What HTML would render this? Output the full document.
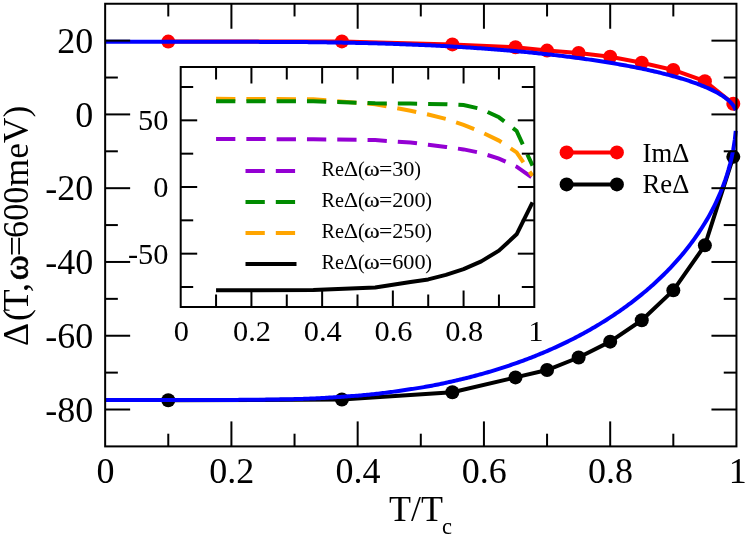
<!DOCTYPE html>
<html><head><meta charset="utf-8"><title>chart</title>
<style>html,body{margin:0;padding:0;background:#fff;}svg{display:block;will-change:transform;}text{font-family:"Liberation Serif",serif;fill:#000;}</style>
</head><body>
<svg width="747" height="539" viewBox="0 0 747 539">
<rect x="0" y="0" width="747" height="539" fill="#fff"/>
<g fill="none" stroke-linejoin="round" stroke-linecap="butt">
<polyline points="168.28,41.6 341.89,41.38 452.37,44.4 515.5,47.28 547.06,50.6 578.62,53.07 610.19,56.68 641.75,62.77 673.32,69.93 704.88,81.14 733.29,103.72" stroke="#f00" stroke-width="4"/>
</g>
<g fill="#f00">
<circle cx="168.28" cy="41.6" r="7"/>
<circle cx="341.89" cy="41.38" r="7"/>
<circle cx="452.37" cy="44.4" r="7"/>
<circle cx="515.5" cy="47.28" r="7"/>
<circle cx="547.06" cy="50.6" r="7"/>
<circle cx="578.62" cy="53.07" r="7"/>
<circle cx="610.19" cy="56.68" r="7"/>
<circle cx="641.75" cy="62.77" r="7"/>
<circle cx="673.32" cy="69.93" r="7"/>
<circle cx="704.88" cy="81.14" r="7"/>
<circle cx="733.29" cy="103.72" r="7"/>
</g>
<polyline points="168.28,400.29 341.89,399.55 452.37,392.18 515.5,377.42 547.06,370.04 578.62,357.5 610.19,341.64 641.75,320.24 673.32,290.37 704.88,245.36 733.29,156.83" fill="none" stroke="#000" stroke-width="4" stroke-linejoin="round"/>
<g fill="#000">
<circle cx="168.28" cy="400.29" r="7"/>
<circle cx="341.89" cy="399.55" r="7"/>
<circle cx="452.37" cy="392.18" r="7"/>
<circle cx="515.5" cy="377.42" r="7"/>
<circle cx="547.06" cy="370.04" r="7"/>
<circle cx="578.62" cy="357.5" r="7"/>
<circle cx="610.19" cy="341.64" r="7"/>
<circle cx="641.75" cy="320.24" r="7"/>
<circle cx="673.32" cy="290.37" r="7"/>
<circle cx="704.88" cy="245.36" r="7"/>
<circle cx="733.29" cy="156.83" r="7"/>
</g>
<polyline points="105.15,41.82 106.73,41.82 108.31,41.82 109.88,41.82 111.46,41.82 113.04,41.82 114.62,41.82 116.2,41.82 117.78,41.82 119.35,41.82 120.93,41.82 122.51,41.82 124.09,41.82 125.67,41.82 127.25,41.82 128.82,41.82 130.4,41.82 131.98,41.82 133.56,41.82 135.14,41.82 136.72,41.82 138.29,41.82 139.87,41.82 141.45,41.82 143.03,41.82 144.61,41.82 146.18,41.82 147.76,41.82 149.34,41.82 150.92,41.82 152.5,41.82 154.08,41.82 155.65,41.82 157.23,41.82 158.81,41.82 160.39,41.82 161.97,41.82 163.55,41.82 165.12,41.82 166.7,41.82 168.28,41.82 169.86,41.82 171.44,41.82 173.01,41.82 174.59,41.82 176.17,41.82 177.75,41.82 179.33,41.82 180.91,41.82 182.48,41.82 184.06,41.82 185.64,41.82 187.22,41.82 188.8,41.82 190.38,41.82 191.95,41.82 193.53,41.82 195.11,41.82 196.69,41.82 198.27,41.82 199.85,41.82 201.42,41.82 203,41.82 204.58,41.82 206.16,41.82 207.74,41.82 209.31,41.82 210.89,41.82 212.47,41.82 214.05,41.82 215.63,41.82 217.21,41.82 218.78,41.82 220.36,41.82 221.94,41.82 223.52,41.82 225.1,41.82 226.68,41.82 228.25,41.82 229.83,41.82 231.41,41.83 232.99,41.83 234.57,41.83 236.14,41.83 237.72,41.83 239.3,41.83 240.88,41.83 242.46,41.83 244.04,41.84 245.61,41.84 247.19,41.84 248.77,41.85 250.35,41.85 251.93,41.85 253.51,41.86 255.08,41.86 256.66,41.87 258.24,41.87 259.82,41.88 261.4,41.88 262.98,41.89 264.55,41.89 266.13,41.9 267.71,41.9 269.29,41.91 270.87,41.92 272.44,41.92 274.02,41.93 275.6,41.94 277.18,41.94 278.76,41.95 280.34,41.96 281.91,41.97 283.49,41.97 285.07,41.98 286.65,41.99 288.23,42 289.81,42 291.38,42.01 292.96,42.02 294.54,42.03 296.12,42.04 297.7,42.05 299.27,42.06 300.85,42.07 302.43,42.08 304.01,42.09 305.59,42.11 307.17,42.12 308.74,42.14 310.32,42.15 311.9,42.17 313.48,42.19 315.06,42.21 316.64,42.23 318.21,42.25 319.79,42.27 321.37,42.29 322.95,42.31 324.53,42.33 326.11,42.36 327.68,42.38 329.26,42.4 330.84,42.43 332.42,42.45 334,42.48 335.57,42.5 337.15,42.53 338.73,42.56 340.31,42.58 341.89,42.61 343.47,42.64 345.04,42.67 346.62,42.7 348.2,42.73 349.78,42.76 351.36,42.79 352.94,42.82 354.51,42.85 356.09,42.88 357.67,42.91 359.25,42.94 360.83,42.97 362.4,43.01 363.98,43.04 365.56,43.08 367.14,43.11 368.72,43.15 370.3,43.19 371.87,43.24 373.45,43.28 375.03,43.32 376.61,43.37 378.19,43.41 379.77,43.46 381.34,43.51 382.92,43.56 384.5,43.61 386.08,43.66 387.66,43.71 389.24,43.76 390.81,43.81 392.39,43.87 393.97,43.92 395.55,43.98 397.13,44.03 398.7,44.09 400.28,44.15 401.86,44.21 403.44,44.27 405.02,44.33 406.6,44.39 408.17,44.45 409.75,44.51 411.33,44.57 412.91,44.63 414.49,44.69 416.07,44.76 417.64,44.82 419.22,44.88 420.8,44.95 422.38,45.01 423.96,45.08 425.53,45.15 427.11,45.22 428.69,45.29 430.27,45.37 431.85,45.44 433.43,45.52 435,45.6 436.58,45.68 438.16,45.76 439.74,45.84 441.32,45.93 442.9,46.01 444.47,46.1 446.05,46.18 447.63,46.27 449.21,46.36 450.79,46.45 452.37,46.54 453.94,46.63 455.52,46.72 457.1,46.81 458.68,46.9 460.26,47 461.83,47.1 463.41,47.19 464.99,47.29 466.57,47.39 468.15,47.49 469.73,47.6 471.3,47.7 472.88,47.8 474.46,47.91 476.04,48.02 477.62,48.13 479.2,48.24 480.77,48.35 482.35,48.46 483.93,48.57 485.51,48.68 487.09,48.8 488.66,48.91 490.24,49.03 491.82,49.15 493.4,49.27 494.98,49.4 496.56,49.52 498.13,49.64 499.71,49.77 501.29,49.9 502.87,50.03 504.45,50.16 506.03,50.29 507.6,50.42 509.18,50.56 510.76,50.69 512.34,50.83 513.92,50.97 515.5,51.11 517.07,51.25 518.65,51.39 520.23,51.54 521.81,51.69 523.39,51.83 524.96,51.98 526.54,52.13 528.12,52.29 529.7,52.44 531.28,52.6 532.86,52.76 534.43,52.92 536.01,53.08 537.59,53.24 539.17,53.4 540.75,53.57 542.33,53.74 543.9,53.9 545.48,54.07 547.06,54.25 548.64,54.42 550.22,54.59 551.79,54.77 553.37,54.95 554.95,55.13 556.53,55.31 558.11,55.5 559.69,55.69 561.26,55.87 562.84,56.07 564.42,56.26 566,56.45 567.58,56.65 569.16,56.85 570.73,57.05 572.31,57.25 573.89,57.45 575.47,57.66 577.05,57.87 578.62,58.08 580.2,58.29 581.78,58.51 583.36,58.72 584.94,58.94 586.52,59.17 588.09,59.39 589.67,59.62 591.25,59.85 592.83,60.08 594.41,60.31 595.99,60.55 597.56,60.79 599.14,61.03 600.72,61.28 602.3,61.53 603.88,61.77 605.46,62.03 607.03,62.28 608.61,62.54 610.19,62.8 611.77,63.06 613.35,63.33 614.92,63.59 616.5,63.86 618.08,64.14 619.66,64.42 621.24,64.7 622.82,64.98 624.39,65.27 625.97,65.56 627.55,65.85 629.13,66.15 630.71,66.45 632.29,66.76 633.86,67.06 635.44,67.37 637.02,67.69 638.6,68.01 640.18,68.33 641.75,68.66 643.33,68.99 644.91,69.32 646.49,69.66 648.07,70 649.65,70.35 651.22,70.71 652.8,71.06 654.38,71.43 655.96,71.79 657.54,72.17 659.12,72.55 660.69,72.93 662.27,73.32 663.85,73.71 665.43,74.11 667.01,74.52 668.59,74.93 670.16,75.35 671.74,75.77 673.32,76.21 674.9,76.64 676.48,77.09 678.05,77.54 679.63,78.01 681.21,78.48 682.79,78.96 684.37,79.45 685.95,79.94 687.52,80.45 689.1,80.97 690.68,81.5 692.26,82.04 693.84,82.59 695.42,83.15 696.99,83.72 698.57,84.31 700.15,84.91 701.73,85.53 703.31,86.16 704.88,86.8 706.46,87.47 708.04,88.16 709.62,88.87 711.2,89.61 712.78,90.37 714.35,91.17 715.93,91.99 717.51,92.85 719.09,93.75 720.67,94.69 722.25,95.68 723.82,96.73 725.4,97.85 726.98,99.06 728.56,100.39 730.14,101.85 731.72,103.52 733.29,105.51 734.87,108.11 735.76,110.23" fill="none" stroke="#00f" stroke-width="4" stroke-linejoin="round"/>
<polyline points="105.15,399.92 106.73,399.92 108.31,399.92 109.88,399.92 111.46,399.92 113.04,399.92 114.62,399.92 116.2,399.92 117.78,399.92 119.35,399.92 120.93,399.92 122.51,399.92 124.09,399.92 125.67,399.92 127.25,399.92 128.82,399.92 130.4,399.92 131.98,399.92 133.56,399.92 135.14,399.92 136.72,399.92 138.29,399.92 139.87,399.92 141.45,399.92 143.03,399.92 144.61,399.92 146.18,399.92 147.76,399.92 149.34,399.92 150.92,399.92 152.5,399.92 154.08,399.92 155.65,399.92 157.23,399.92 158.81,399.92 160.39,399.92 161.97,399.92 163.55,399.92 165.12,399.92 166.7,399.92 168.28,399.92 169.86,399.92 171.44,399.92 173.01,399.92 174.59,399.92 176.17,399.92 177.75,399.92 179.33,399.92 180.91,399.92 182.48,399.92 184.06,399.92 185.64,399.92 187.22,399.92 188.8,399.92 190.38,399.92 191.95,399.92 193.53,399.92 195.11,399.92 196.69,399.92 198.27,399.92 199.85,399.91 201.42,399.91 203,399.91 204.58,399.91 206.16,399.91 207.74,399.91 209.31,399.91 210.89,399.91 212.47,399.91 214.05,399.91 215.63,399.91 217.21,399.9 218.78,399.9 220.36,399.9 221.94,399.9 223.52,399.9 225.1,399.9 226.68,399.9 228.25,399.9 229.83,399.89 231.41,399.89 232.99,399.89 234.57,399.89 236.14,399.88 237.72,399.88 239.3,399.87 240.88,399.86 242.46,399.85 244.04,399.84 245.61,399.83 247.19,399.82 248.77,399.81 250.35,399.79 251.93,399.78 253.51,399.76 255.08,399.75 256.66,399.73 258.24,399.71 259.82,399.69 261.4,399.67 262.98,399.65 264.55,399.63 266.13,399.6 267.71,399.58 269.29,399.56 270.87,399.53 272.44,399.51 274.02,399.48 275.6,399.45 277.18,399.43 278.76,399.4 280.34,399.37 281.91,399.34 283.49,399.31 285.07,399.28 286.65,399.25 288.23,399.22 289.81,399.19 291.38,399.16 292.96,399.13 294.54,399.09 296.12,399.06 297.7,399.02 299.27,398.98 300.85,398.94 302.43,398.89 304.01,398.84 305.59,398.78 307.17,398.72 308.74,398.66 310.32,398.6 311.9,398.53 313.48,398.46 315.06,398.39 316.64,398.31 318.21,398.24 319.79,398.15 321.37,398.07 322.95,397.99 324.53,397.9 326.11,397.81 327.68,397.72 329.26,397.62 330.84,397.52 332.42,397.43 334,397.33 335.57,397.22 337.15,397.12 338.73,397.01 340.31,396.91 341.89,396.8 343.47,396.69 345.04,396.58 346.62,396.46 348.2,396.35 349.78,396.23 351.36,396.12 352.94,396 354.51,395.88 356.09,395.76 357.67,395.64 359.25,395.52 360.83,395.39 362.4,395.25 363.98,395.11 365.56,394.97 367.14,394.82 368.72,394.67 370.3,394.51 371.87,394.35 373.45,394.18 375.03,394.01 376.61,393.83 378.19,393.65 379.77,393.47 381.34,393.28 382.92,393.09 384.5,392.89 386.08,392.69 387.66,392.49 389.24,392.28 390.81,392.07 392.39,391.86 393.97,391.64 395.55,391.42 397.13,391.2 398.7,390.98 400.28,390.75 401.86,390.52 403.44,390.29 405.02,390.06 406.6,389.82 408.17,389.58 409.75,389.34 411.33,389.1 412.91,388.86 414.49,388.61 416.07,388.36 417.64,388.12 419.22,387.87 420.8,387.62 422.38,387.36 423.96,387.1 425.53,386.83 427.11,386.55 428.69,386.26 430.27,385.97 431.85,385.67 433.43,385.37 435,385.06 436.58,384.74 438.16,384.42 439.74,384.09 441.32,383.76 442.9,383.43 444.47,383.09 446.05,382.75 447.63,382.41 449.21,382.06 450.79,381.71 452.37,381.36 453.94,381.01 455.52,380.65 457.1,380.29 458.68,379.92 460.26,379.54 461.83,379.17 463.41,378.78 464.99,378.39 466.57,378 468.15,377.6 469.73,377.2 471.3,376.79 472.88,376.38 474.46,375.96 476.04,375.54 477.62,375.11 479.2,374.68 480.77,374.25 482.35,373.81 483.93,373.37 485.51,372.92 487.09,372.47 488.66,372.01 490.24,371.55 491.82,371.08 493.4,370.6 494.98,370.12 496.56,369.63 498.13,369.14 499.71,368.64 501.29,368.14 502.87,367.63 504.45,367.12 506.03,366.6 507.6,366.07 509.18,365.54 510.76,365.01 512.34,364.47 513.92,363.93 515.5,363.38 517.07,362.82 518.65,362.26 520.23,361.69 521.81,361.12 523.39,360.53 524.96,359.94 526.54,359.35 528.12,358.75 529.7,358.14 531.28,357.52 532.86,356.9 534.43,356.28 536.01,355.64 537.59,355 539.17,354.36 540.75,353.71 542.33,353.05 543.9,352.39 545.48,351.72 547.06,351.04 548.64,350.36 550.22,349.67 551.79,348.98 553.37,348.27 554.95,347.56 556.53,346.84 558.11,346.11 559.69,345.38 561.26,344.64 562.84,343.89 564.42,343.13 566,342.36 567.58,341.59 569.16,340.81 570.73,340.02 572.31,339.23 573.89,338.42 575.47,337.61 577.05,336.79 578.62,335.97 580.2,335.13 581.78,334.29 583.36,333.43 584.94,332.57 586.52,331.69 588.09,330.81 589.67,329.91 591.25,329.01 592.83,328.1 594.41,327.17 595.99,326.24 597.56,325.3 599.14,324.35 600.72,323.39 602.3,322.41 603.88,321.43 605.46,320.44 607.03,319.44 608.61,318.43 610.19,317.41 611.77,316.38 613.35,315.34 614.92,314.28 616.5,313.21 618.08,312.13 619.66,311.04 621.24,309.94 622.82,308.82 624.39,307.69 625.97,306.55 627.55,305.39 629.13,304.22 630.71,303.04 632.29,301.85 633.86,300.64 635.44,299.41 637.02,298.17 638.6,296.92 640.18,295.65 641.75,294.37 643.33,293.07 644.91,291.75 646.49,290.42 648.07,289.07 649.65,287.7 651.22,286.31 652.8,284.9 654.38,283.47 655.96,282.03 657.54,280.56 659.12,279.07 660.69,277.56 662.27,276.03 663.85,274.48 665.43,272.91 667.01,271.31 668.59,269.69 670.16,268.04 671.74,266.37 673.32,264.68 674.9,262.95 676.48,261.2 678.05,259.41 679.63,257.59 681.21,255.74 682.79,253.86 684.37,251.93 685.95,249.98 687.52,247.98 689.1,245.95 690.68,243.87 692.26,241.75 693.84,239.59 695.42,237.38 696.99,235.12 698.57,232.81 700.15,230.44 701.73,228.02 703.31,225.54 704.88,222.99 706.46,220.37 708.04,217.66 709.62,214.86 711.2,211.96 712.78,208.96 714.35,205.84 715.93,202.6 717.51,199.22 719.09,195.69 720.67,191.98 722.25,188.09 723.82,183.96 725.4,179.56 726.98,174.79 728.56,169.58 730.14,163.81 731.72,157.23 733.29,149.41 734.87,139.19 735.76,130.86" fill="none" stroke="#00f" stroke-width="4" stroke-linejoin="round"/>
<rect x="180.7" y="67" width="353.6" height="240" fill="#fff"/>
<polyline points="216.06,138.9 313.3,139.3 375.18,140.1 410.54,142.5 428.22,144.8 445.9,146.9 463.58,149.4 481.26,153 498.94,158.6 516.62,166.7 532.53,178" fill="none" stroke="#9400d3" stroke-width="4" stroke-dasharray="19.3 11"/>
<polyline points="216.06,98.8 313.3,99.2 375.18,104.2 410.54,110.7 428.22,114.5 445.9,118.9 463.58,124.9 481.26,132 498.94,140.6 516.62,152.4 532.53,175.9" fill="none" stroke="#ffa500" stroke-width="4" stroke-dasharray="19.3 11"/>
<polyline points="216.06,101.2 313.3,101.2 375.18,103.3 410.54,103.6 428.22,103.9 445.9,104.2 463.58,105.1 481.26,109 498.94,117.3 516.62,131 532.53,165.7" fill="none" stroke="#008b00" stroke-width="4" stroke-dasharray="19.3 11"/>
<polyline points="216.06,290.33 313.3,290.07 375.18,287.4 410.54,282.07 428.22,279.4 445.9,274.87 463.58,269.13 481.26,261.4 498.94,250.6 516.62,234.33 532.53,202.33" fill="none" stroke="#000" stroke-width="4" stroke-linejoin="round"/>
<line x1="245.5" y1="171" x2="295.5" y2="171" stroke="#9400d3" stroke-width="4" stroke-dasharray="19.3 11"/>
<line x1="245.5" y1="202" x2="295.5" y2="202" stroke="#008b00" stroke-width="4" stroke-dasharray="19.3 11"/>
<line x1="245.5" y1="233" x2="295.5" y2="233" stroke="#ffa500" stroke-width="4" stroke-dasharray="19.3 11"/>
<line x1="245.5" y1="264" x2="296.5" y2="264" stroke="#000" stroke-width="4"/>
<g font-size="20.2">
<text x="321.6" y="176">Re</text>
<text x="343.8" y="176" textLength="14.4" lengthAdjust="spacingAndGlyphs">Δ</text>
<text x="357.9" y="176">(</text>
<text x="363.9" y="176" textLength="15.7" lengthAdjust="spacingAndGlyphs" stroke="#000" stroke-width="0.2">ω</text>
<text x="378.9" y="176" textLength="13.3" lengthAdjust="spacingAndGlyphs">=</text>
<text x="392.2" y="176" textLength="22.26" lengthAdjust="spacingAndGlyphs">30</text>
<text x="414.16" y="176">)</text>
<text x="321.6" y="207">Re</text>
<text x="343.8" y="207" textLength="14.4" lengthAdjust="spacingAndGlyphs">Δ</text>
<text x="357.9" y="207">(</text>
<text x="363.9" y="207" textLength="15.7" lengthAdjust="spacingAndGlyphs" stroke="#000" stroke-width="0.2">ω</text>
<text x="378.9" y="207" textLength="13.3" lengthAdjust="spacingAndGlyphs">=</text>
<text x="392.2" y="207" textLength="33.39" lengthAdjust="spacingAndGlyphs">200</text>
<text x="425.29" y="207">)</text>
<text x="321.6" y="238">Re</text>
<text x="343.8" y="238" textLength="14.4" lengthAdjust="spacingAndGlyphs">Δ</text>
<text x="357.9" y="238">(</text>
<text x="363.9" y="238" textLength="15.7" lengthAdjust="spacingAndGlyphs" stroke="#000" stroke-width="0.2">ω</text>
<text x="378.9" y="238" textLength="13.3" lengthAdjust="spacingAndGlyphs">=</text>
<text x="392.2" y="238" textLength="33.39" lengthAdjust="spacingAndGlyphs">250</text>
<text x="425.29" y="238">)</text>
<text x="321.6" y="269">Re</text>
<text x="343.8" y="269" textLength="14.4" lengthAdjust="spacingAndGlyphs">Δ</text>
<text x="357.9" y="269">(</text>
<text x="363.9" y="269" textLength="15.7" lengthAdjust="spacingAndGlyphs" stroke="#000" stroke-width="0.2">ω</text>
<text x="378.9" y="269" textLength="13.3" lengthAdjust="spacingAndGlyphs">=</text>
<text x="392.2" y="269" textLength="33.39" lengthAdjust="spacingAndGlyphs">600</text>
<text x="425.29" y="269">)</text>
</g>
<g stroke="#000" stroke-width="2" fill="none" stroke-linecap="butt">
<rect x="180.7" y="67" width="353.6" height="240" stroke-linejoin="miter"/>
<line x1="216.06" y1="67" x2="216.06" y2="79.5"/>
<line x1="216.06" y1="307" x2="216.06" y2="294.5"/>
<line x1="251.42" y1="67" x2="251.42" y2="83.5"/>
<line x1="251.42" y1="307" x2="251.42" y2="290.5"/>
<line x1="286.78" y1="67" x2="286.78" y2="79.5"/>
<line x1="286.78" y1="307" x2="286.78" y2="294.5"/>
<line x1="322.14" y1="67" x2="322.14" y2="83.5"/>
<line x1="322.14" y1="307" x2="322.14" y2="290.5"/>
<line x1="357.5" y1="67" x2="357.5" y2="79.5"/>
<line x1="357.5" y1="307" x2="357.5" y2="294.5"/>
<line x1="392.86" y1="67" x2="392.86" y2="83.5"/>
<line x1="392.86" y1="307" x2="392.86" y2="290.5"/>
<line x1="428.22" y1="67" x2="428.22" y2="79.5"/>
<line x1="428.22" y1="307" x2="428.22" y2="294.5"/>
<line x1="463.58" y1="67" x2="463.58" y2="83.5"/>
<line x1="463.58" y1="307" x2="463.58" y2="290.5"/>
<line x1="498.94" y1="67" x2="498.94" y2="79.5"/>
<line x1="498.94" y1="307" x2="498.94" y2="294.5"/>
<line x1="180.7" y1="287" x2="193.2" y2="287"/>
<line x1="534.3" y1="287" x2="521.8" y2="287"/>
<line x1="180.7" y1="253.67" x2="197.2" y2="253.67"/>
<line x1="534.3" y1="253.67" x2="517.8" y2="253.67"/>
<line x1="180.7" y1="220.33" x2="193.2" y2="220.33"/>
<line x1="534.3" y1="220.33" x2="521.8" y2="220.33"/>
<line x1="180.7" y1="187" x2="197.2" y2="187"/>
<line x1="534.3" y1="187" x2="517.8" y2="187"/>
<line x1="180.7" y1="153.67" x2="193.2" y2="153.67"/>
<line x1="534.3" y1="153.67" x2="521.8" y2="153.67"/>
<line x1="180.7" y1="120.33" x2="197.2" y2="120.33"/>
<line x1="534.3" y1="120.33" x2="517.8" y2="120.33"/>
<line x1="180.7" y1="87" x2="193.2" y2="87"/>
<line x1="534.3" y1="87" x2="521.8" y2="87"/>
</g>
<text x="181.3" y="341" font-size="30.4" text-anchor="middle">0</text>
<text x="252.02" y="341" font-size="30.4" text-anchor="middle">0.2</text>
<text x="322.74" y="341" font-size="30.4" text-anchor="middle">0.4</text>
<text x="393.46" y="341" font-size="30.4" text-anchor="middle">0.6</text>
<text x="464.18" y="341" font-size="30.4" text-anchor="middle">0.8</text>
<text x="535.8" y="341" font-size="30.4" text-anchor="middle">1</text>
<text x="168.4" y="263.77" font-size="30.4" text-anchor="end">-50</text>
<text x="168.4" y="197.1" font-size="30.4" text-anchor="end">0</text>
<text x="168.4" y="130.43" font-size="30.4" text-anchor="end">50</text>
<g stroke="#000" stroke-width="2" fill="none" stroke-linecap="butt">
<rect x="105.15" y="3.75" width="631.3" height="442.65"/>
<line x1="168.28" y1="3.75" x2="168.28" y2="16.45"/>
<line x1="168.28" y1="446.4" x2="168.28" y2="433.7"/>
<line x1="231.41" y1="3.75" x2="231.41" y2="28.75"/>
<line x1="231.41" y1="446.4" x2="231.41" y2="421.4"/>
<line x1="294.54" y1="3.75" x2="294.54" y2="16.45"/>
<line x1="294.54" y1="446.4" x2="294.54" y2="433.7"/>
<line x1="357.67" y1="3.75" x2="357.67" y2="28.75"/>
<line x1="357.67" y1="446.4" x2="357.67" y2="421.4"/>
<line x1="420.8" y1="3.75" x2="420.8" y2="16.45"/>
<line x1="420.8" y1="446.4" x2="420.8" y2="433.7"/>
<line x1="483.93" y1="3.75" x2="483.93" y2="28.75"/>
<line x1="483.93" y1="446.4" x2="483.93" y2="421.4"/>
<line x1="547.06" y1="3.75" x2="547.06" y2="16.45"/>
<line x1="547.06" y1="446.4" x2="547.06" y2="433.7"/>
<line x1="610.19" y1="3.75" x2="610.19" y2="28.75"/>
<line x1="610.19" y1="446.4" x2="610.19" y2="421.4"/>
<line x1="673.32" y1="3.75" x2="673.32" y2="16.45"/>
<line x1="673.32" y1="446.4" x2="673.32" y2="433.7"/>
<line x1="105.15" y1="409.51" x2="130.15" y2="409.51"/>
<line x1="736.45" y1="409.51" x2="711.45" y2="409.51"/>
<line x1="105.15" y1="372.62" x2="117.85" y2="372.62"/>
<line x1="736.45" y1="372.62" x2="723.75" y2="372.62"/>
<line x1="105.15" y1="335.74" x2="130.15" y2="335.74"/>
<line x1="736.45" y1="335.74" x2="711.45" y2="335.74"/>
<line x1="105.15" y1="298.85" x2="117.85" y2="298.85"/>
<line x1="736.45" y1="298.85" x2="723.75" y2="298.85"/>
<line x1="105.15" y1="261.96" x2="130.15" y2="261.96"/>
<line x1="736.45" y1="261.96" x2="711.45" y2="261.96"/>
<line x1="105.15" y1="225.07" x2="117.85" y2="225.07"/>
<line x1="736.45" y1="225.07" x2="723.75" y2="225.07"/>
<line x1="105.15" y1="188.19" x2="130.15" y2="188.19"/>
<line x1="736.45" y1="188.19" x2="711.45" y2="188.19"/>
<line x1="105.15" y1="151.3" x2="117.85" y2="151.3"/>
<line x1="736.45" y1="151.3" x2="723.75" y2="151.3"/>
<line x1="105.15" y1="114.41" x2="130.15" y2="114.41"/>
<line x1="736.45" y1="114.41" x2="711.45" y2="114.41"/>
<line x1="105.15" y1="77.53" x2="117.85" y2="77.53"/>
<line x1="736.45" y1="77.53" x2="723.75" y2="77.53"/>
<line x1="105.15" y1="40.64" x2="130.15" y2="40.64"/>
<line x1="736.45" y1="40.64" x2="711.45" y2="40.64"/>
</g>
<text x="105.55" y="483.4" font-size="36" text-anchor="middle">0</text>
<text x="231.81" y="483.4" font-size="36" text-anchor="middle">0.2</text>
<text x="358.07" y="483.4" font-size="36" text-anchor="middle">0.4</text>
<text x="484.33" y="483.4" font-size="36" text-anchor="middle">0.6</text>
<text x="610.59" y="483.4" font-size="36" text-anchor="middle">0.8</text>
<text x="737.85" y="483.4" font-size="36" text-anchor="middle">1</text>
<text x="93.2" y="421.71" font-size="36" text-anchor="end">-80</text>
<text x="93.2" y="347.94" font-size="36" text-anchor="end">-60</text>
<text x="93.2" y="274.16" font-size="36" text-anchor="end">-40</text>
<text x="93.2" y="200.39" font-size="36" text-anchor="end">-20</text>
<text x="93.2" y="126.61" font-size="36" text-anchor="end">0</text>
<text x="93.2" y="52.84" font-size="36" text-anchor="end">20</text>
<text x="389" y="521" font-size="36">T/T<tspan font-size="22.5" dy="13" dx="-1">c</tspan></text>
<g transform="translate(27.8,344.8) rotate(-90)" font-size="36">
<text x="-1.3" y="0" textLength="23" lengthAdjust="spacingAndGlyphs">Δ</text>
<text x="23.8" y="0">(</text>
<text x="33.3" y="0">T</text>
<text x="52.8" y="0">,</text>
<text x="64.4" y="0" textLength="25.5" lengthAdjust="spacingAndGlyphs" stroke="#000" stroke-width="0.55">ω</text>
<text x="88.6" y="0">=</text>
<text x="106.9" y="0" textLength="51.4" lengthAdjust="spacingAndGlyphs">600</text>
<text x="158.4" y="0" textLength="80.6" lengthAdjust="spacingAndGlyphs">meV)</text>
</g>
<line x1="566.6" y1="152.4" x2="616.9" y2="152.4" stroke="#f00" stroke-width="4"/>
<circle cx="566.6" cy="152.4" r="7" fill="#f00"/><circle cx="616.9" cy="152.4" r="7" fill="#f00"/>
<line x1="566.6" y1="184.4" x2="616.9" y2="184.4" stroke="#000" stroke-width="4"/>
<circle cx="566.6" cy="184.4" r="7" fill="#000"/><circle cx="616.9" cy="184.4" r="7" fill="#000"/>
<text x="642.5" y="162.2" font-size="28" textLength="46.8" lengthAdjust="spacingAndGlyphs">ImΔ</text>
<text x="642.5" y="193.4" font-size="28" textLength="46.8" lengthAdjust="spacingAndGlyphs">ReΔ</text>
</svg></body></html>
